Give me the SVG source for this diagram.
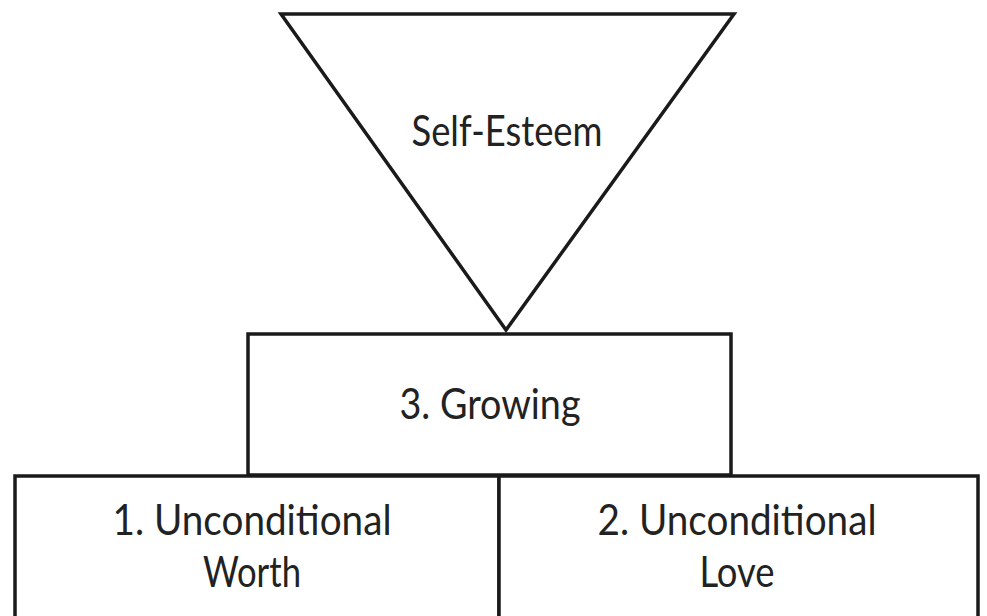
<svg xmlns="http://www.w3.org/2000/svg" width="987" height="616" viewBox="0 0 987 616">
<style>
.s{fill:#fff;stroke:#1a1a1a;stroke-width:3.5;stroke-linejoin:miter}
.t{font-family:Lato,"Open Sans",sans-serif;font-size:42px;fill:#222;text-anchor:middle}
</style>
<rect width="987" height="616" fill="#fff"/>
<g id="self-esteem">
<polygon class="s" points="281,14 734,14 506,330"/>
<text class="t" x="507" y="146" textLength="191" lengthAdjust="spacingAndGlyphs">Self-Esteem</text>
</g>
<g id="growing">
<rect class="s" x="248" y="334" width="483" height="141"/>
<text class="t" x="490" y="419" textLength="181" lengthAdjust="spacingAndGlyphs">3. Growing</text>
</g>
<g id="worth">
<rect class="s" x="15" y="476" width="484" height="160"/>
<text class="t" x="252" y="535" textLength="279" lengthAdjust="spacingAndGlyphs">1. Unconditional</text>
<text class="t" x="252" y="587" textLength="98" lengthAdjust="spacingAndGlyphs">Worth</text>
</g>
<g id="love">
<rect class="s" x="499" y="476" width="479" height="160"/>
<text class="t" x="737" y="535" textLength="279" lengthAdjust="spacingAndGlyphs">2. Unconditional</text>
<text class="t" x="737" y="587" textLength="75" lengthAdjust="spacingAndGlyphs">Love</text>
</g>
<g id="connectors"></g>
</svg>
